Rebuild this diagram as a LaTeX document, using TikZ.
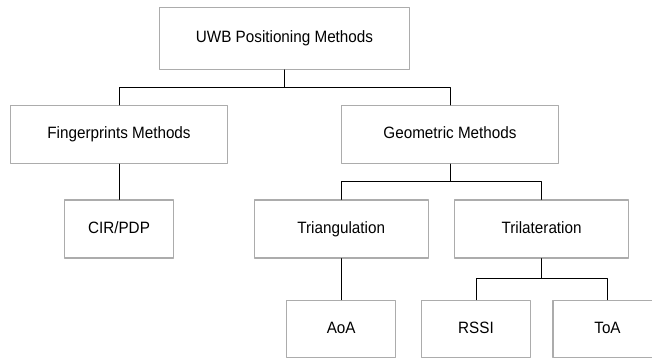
\documentclass[tikz,border=0pt]{standalone}
\usepackage{fontspec}
\setmainfont{Liberation Sans}[FakeStretch=0.93]
\begin{document}
\begin{tikzpicture}[x=1pt, y=-1pt, line cap=round, line join=round,
		font=\fontsize{16.4}{19}\selectfont,
		box/.style={draw=gray!65, line width=1.1pt, fill=white, inner sep=0pt, minimum height=58pt,
			text height=11.8pt, text depth=3.2pt},
		wide/.style={box, minimum width=217pt},
		mid/.style={box, minimum width=174pt},
		small/.style={box, minimum width=109pt},
		link/.style={black, line width=0.8pt}]
			\useasboundingbox (0,0) rectangle (652,358);
			\clip (0,0) rectangle (652,358);
			\fill[white] (0,0) rectangle (652,358);
			% boxes
			\node[box, minimum width=250pt, minimum height=62pt] (uwb) at (284.5,38.2) {UWB Positioning Methods};
			\node[wide] (fing) at (119,134.5) {Fingerprints Methods};
			\node[wide] (geo) at (450,134.5) {Geometric Methods};
			\node[small] (cir) at (119,229) {CIR/PDP};
			\node[mid] (tri) at (341.2,229) {Triangulation};
			\node[mid] (tril) at (541.6,229) {Trilateration};
			\node[small, minimum height=57pt] (aoa) at (341.2,328.7) {AoA};
			\node[small, minimum height=57pt] (rssi) at (476,328.7) {RSSI};
			\node[small, minimum height=57pt] (toa) at (607.5,328.7) {ToA};
			% connectors
			\coordinate (fork1) at (284.5,87);
			\coordinate (fork2) at (450,181.3);
			\coordinate (fork3) at (541.6,278.3);
			\draw[link] (uwb.south) -- (fork1) -| (fing.north);
			\draw[link] (fork1) -| (geo.north);
			\draw[link] (fing.south) -- (cir.north);
			\draw[link] (geo.south) -- (fork2) -| (tri.north);
			\draw[link] (fork2) -| (tril.north);
			\draw[link] (tri.south) -- (aoa.north);
			\draw[link] (tril.south) -- (fork3) -| (rssi.north);
			\draw[link] (fork3) -| (toa.north);
		\end{tikzpicture}
\end{document}
